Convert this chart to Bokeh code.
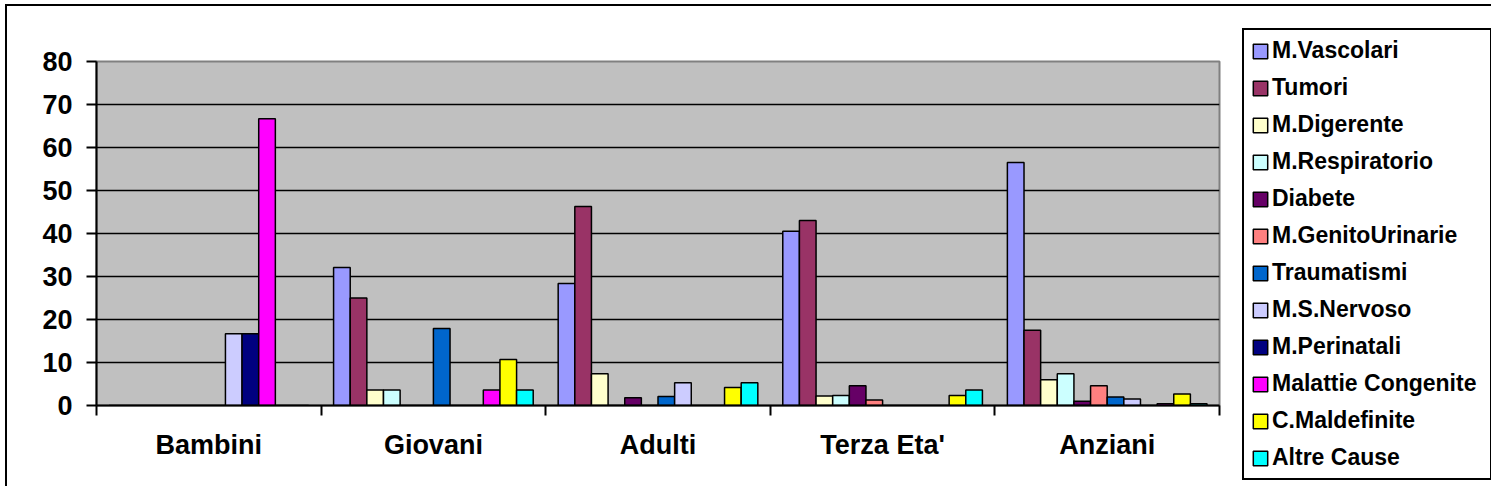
from bokeh.plotting import figure
from bokeh.layouts import row
from bokeh.models import (Range1d, LinearAxis, FixedTicker,
                          Legend, LegendItem, ColumnDataSource, Grid)
from bokeh.transform import dodge
from bokeh.embed import file_html
from bokeh.resources import INLINE

categories = ["Bambini", "Giovani", "Adulti", "Terza Eta'", "Anziani"]

vascolari    = [0.0, 32.1, 28.4, 40.5, 56.5]
tumori       = [0.0, 25.0, 46.3, 43.0, 17.5]
digerente    = [0.0, 3.6, 7.4, 2.2, 6.0]
respiratorio = [0.0, 3.6, 0.0, 2.3, 7.4]
diabete      = [0.0, 0.0, 1.8, 4.6, 1.0]
genito       = [0.0, 0.0, 0.0, 1.3, 4.6]
traumatismi  = [0.0, 17.9, 2.1, 0.0, 2.0]
nervoso      = [16.7, 0.0, 5.3, 0.0, 1.5]
perinatali   = [16.7, 0.0, 0.0, 0.0, 0.0]
congenite    = [66.7, 3.6, 0.0, 0.0, 0.4]
maldefinite  = [0.0, 10.7, 4.2, 2.3, 2.7]
altre        = [0.0, 3.6, 5.3, 3.6, 0.4]

series_labels = ["M.Vascolari", "Tumori", "M.Digerente", "M.Respiratorio", "Diabete",
                 "M.GenitoUrinarie", "Traumatismi", "M.S.Nervoso", "M.Perinatali",
                 "Malattie Congenite", "C.Maldefinite", "Altre Cause"]
series_values = [vascolari, tumori, digerente, respiratorio, diabete, genito,
                 traumatismi, nervoso, perinatali, congenite, maldefinite, altre]
colors = ["#9999FF", "#993366", "#FFFFCC", "#CCFFFF", "#660066", "#FF8080",
          "#0066CC", "#CCCCFF", "#000080", "#FF00FF", "#FFFF00", "#00FFFF"]
y_ticks = [0, 10, 20, 30, 40, 50, 60, 70, 80]

FONT = "Liberation Sans"
AX_FS = "27px"

ncat = len(categories)
centers = [k + 0.5 for k in range(ncat)]
data = {"xc": centers}
for i, vals in enumerate(series_values):
    data["s%d" % i] = vals
src = ColumnDataSource(data)

H = 480
p = figure(x_range=Range1d(0, ncat), y_range=Range1d(0, 80),
           width=1222, height=H, output_backend="svg", toolbar_location=None,
           x_axis_location=None, y_axis_location=None,
           min_border_left=89, min_border_right=10, min_border_top=55, min_border_bottom=81)
p.grid.visible = False
p.background_fill_color = "#C0C0C0"
p.border_fill_color = "white"
p.outline_line_color = "#808080"
p.outline_line_width = 2

p.add_layout(Grid(dimension=1, ticker=FixedTicker(ticks=[10, 20, 30, 40, 50, 60, 70]),
                  grid_line_color="black", grid_line_width=1.5))

n = len(series_labels)
gw = n + 1.5
for i in range(n):
    p.vbar(x=dodge("xc", (i - (n - 1) / 2) / gw), top="s%d" % i,
           width=1 / gw, source=src, fill_color=colors[i], line_color="black", line_width=1.5)

# y axis
yax = LinearAxis(ticker=FixedTicker(ticks=y_ticks), major_tick_in=0, major_tick_out=10,
                 minor_tick_line_color=None, axis_line_width=2, axis_line_color="black",
                 major_tick_line_width=2, major_label_standoff=14,
                 major_label_text_font=FONT, major_label_text_font_style="bold",
                 major_label_text_font_size=AX_FS, major_label_text_color="black")
p.add_layout(yax, "left")

# boundary ticks axis
bax = LinearAxis(ticker=FixedTicker(ticks=list(range(ncat + 1))),
                 major_tick_in=0, major_tick_out=10, minor_tick_line_color=None,
                 axis_line_width=2, axis_line_color="black", major_tick_line_width=2,
                 major_label_text_font_size="1px", major_label_text_color=None,
                 major_label_standoff=0)
p.add_layout(bax, "below")

# category labels axis
cax = LinearAxis(ticker=FixedTicker(ticks=centers),
                 major_label_overrides={c: lab for c, lab in zip(centers, categories)},
                 axis_line_color=None, major_tick_line_color=None, minor_tick_line_color=None,
                 major_tick_in=0, major_tick_out=0, major_label_standoff=14,
                 major_label_text_font=FONT, major_label_text_font_style="bold",
                 major_label_text_font_size=AX_FS, major_label_text_color="black")
p.add_layout(cax, "below")

# legend panel
lp = figure(x_range=Range1d(0, 1), y_range=Range1d(0, 1), width=262, height=H,
            output_backend="svg", toolbar_location=None,
            x_axis_location=None, y_axis_location=None, min_border=0)
lp.frame_align = False
lp.grid.visible = False
lp.outline_line_color = None
lp.background_fill_color = "white"
lp.border_fill_color = "white"

nan = float("nan")
items = []
for i in range(n):
    swatch = ColumnDataSource(dict(left=[nan], right=[nan], top=[nan], bottom=[nan]))
    r = lp.quad(left="left", right="right", top="top", bottom="bottom", source=swatch,
                fill_color=colors[i], line_color="black", line_width=1.5)
    items.append(LegendItem(label=series_labels[i], renderers=[r]))

legend = Legend(items=items, location=(13, 6), orientation="vertical",
                label_text_font=FONT, label_text_font_style="bold", label_text_font_size="23px",
                label_text_color="black", glyph_width=18, glyph_height=18, label_standoff=3,
                label_height=26, label_width=211, spacing=10, padding=7, margin=0,
                border_line_color="black", border_line_width=2, border_line_alpha=1,
                background_fill_color="white", background_fill_alpha=1)
lp.add_layout(legend)

layout = row(p, lp)
layout.styles = {"border-left": "2px solid black", "border-top": "2px solid black",
                 "margin-left": "5px", "margin-top": "4px"}

open("out.html", "w").write(file_html(layout, INLINE))
